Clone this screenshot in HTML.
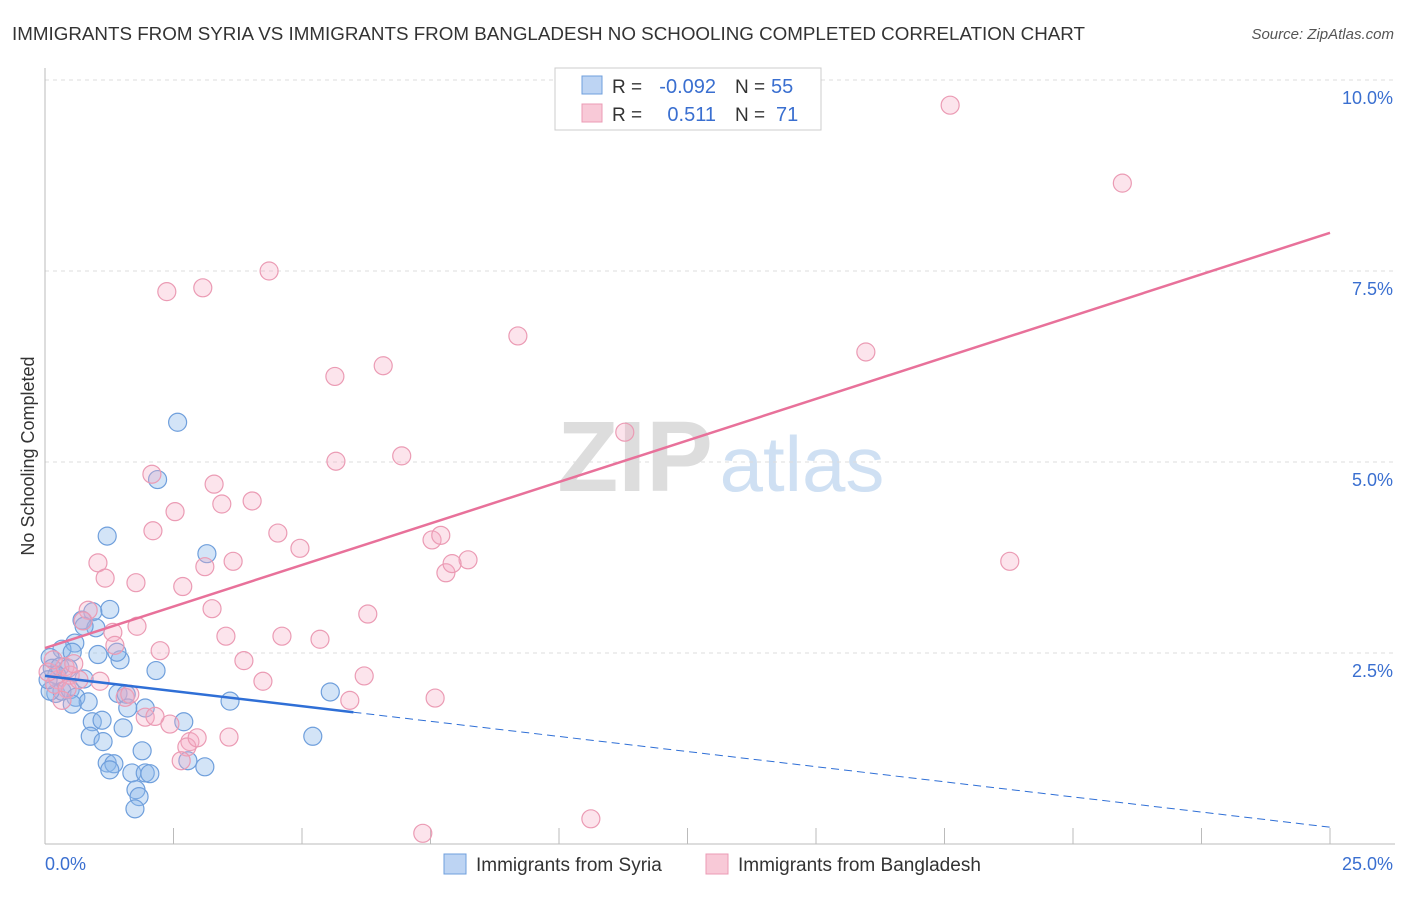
<!DOCTYPE html>
<html><head><meta charset="utf-8"><style>
body{margin:0;background:#fff;font-family:"Liberation Sans",sans-serif;}
svg text{font-family:"Liberation Sans",sans-serif;}
</style></head><body>
<svg id="chart" width="1406" height="892">
<text x="12" y="40" font-size="18" fill="#333" textLength="1073" lengthAdjust="spacingAndGlyphs">IMMIGRANTS FROM SYRIA VS IMMIGRANTS FROM BANGLADESH NO SCHOOLING COMPLETED CORRELATION CHART</text>
<text x="1394" y="39" font-size="15" fill="#555" text-anchor="end" font-style="italic">Source: ZipAtlas.com</text>
<text x="34" y="456" font-size="18" fill="#333" text-anchor="middle" transform="rotate(-90 34 456)">No Schooling Completed</text>
<g>
<text x="635" y="491" font-size="100" fill="#ddd" font-family="Liberation Serif" text-anchor="middle" font-weight="bold">ZIP</text>
<text x="802" y="491" font-size="78" fill="#cfe0f3" text-anchor="middle">atlas</text>
</g>
<g id="grid"></g><g id="axes"></g><g id="pts"></g><g id="lines"></g>
<g>
<rect x="555" y="68" width="266" height="62" fill="#fff" stroke="#ccc"/>
<rect x="582" y="76" width="20" height="18" fill="#bdd4f3" stroke="#6f9fdc"/>
<rect x="582" y="104" width="20" height="18" fill="#f8c9d7" stroke="#eb9bb4"/>
<text x="612" y="93" font-size="19" fill="#333">R =</text>
<text x="716" y="93" font-size="20" fill="#3a6fd0" text-anchor="end">-0.092</text>
<text x="735" y="93" font-size="19" fill="#333">N =</text>
<text x="771" y="93" font-size="20" fill="#3a6fd0">55</text>
<text x="612" y="121" font-size="19" fill="#333">R =</text>
<text x="716" y="121" font-size="20" fill="#3a6fd0" text-anchor="end">0.511</text>
<text x="735" y="121" font-size="19" fill="#333">N =</text>
<text x="776" y="121" font-size="20" fill="#3a6fd0">71</text>
</g>
<g>
<rect x="444" y="854" width="22" height="20" fill="#bdd4f3" stroke="#6f9fdc"/>
<text x="476" y="871" font-size="19" fill="#333">Immigrants from Syria</text>
<rect x="706" y="854" width="22" height="20" fill="#f8c9d7" stroke="#eb9bb4"/>
<text x="738" y="871" font-size="19" fill="#333">Immigrants from Bangladesh</text>
</g>
</svg>
<script>
const xTicks=[0,2.5,5,7.5,10,12.5,15,17.5,20,22.5,25];
const yTicks=[2.5,5,7.5,10];
const yTickLabels=["2.5%","5.0%","7.5%","10.0%"];
const xEndLabels=["0.0%","25.0%"];
const syriaX=[2.58,2.19,1.21,3.15,1.26,0.93,0.72,0.99,0.76,0.58,0.33,0.53,1.03,1.46,1.40,0.10,0.14,0.29,0.45,0.76,0.21,0.33,0.10,0.49,0.60,0.84,1.42,1.58,1.61,1.95,2.16,3.60,2.70,5.55,5.21,0.92,1.11,0.88,1.52,1.13,1.89,1.21,1.34,1.26,1.69,1.95,2.04,3.11,2.78,1.77,1.83,1.75,0.53,0.23,0.06];
const syriaY=[5.52,4.77,4.03,3.80,3.07,3.04,2.93,2.83,2.85,2.63,2.55,2.51,2.48,2.41,2.51,2.44,2.30,2.32,2.30,2.16,1.97,2.00,2.00,2.02,1.92,1.86,1.97,1.96,1.78,1.78,2.27,1.87,1.60,1.99,1.41,1.60,1.62,1.41,1.52,1.34,1.22,1.06,1.05,0.97,0.93,0.93,0.92,1.01,1.09,0.71,0.62,0.46,1.83,2.21,2.15];
const bangX=[17.61,20.96,4.36,2.37,3.07,9.2,15.97,6.58,5.64,11.28,5.66,6.94,2.08,3.29,4.03,3.44,2.53,2.10,4.53,7.53,7.70,4.96,1.03,1.17,1.77,3.66,3.11,2.68,18.77,8.23,7.80,7.92,3.25,6.28,0.84,0.74,1.79,1.32,3.52,4.61,5.35,2.24,3.87,1.36,6.21,4.24,1.07,7.59,5.93,1.56,1.65,1.95,2.43,2.14,2.82,2.76,2.96,2.65,3.58,7.35,10.62,0.25,0.39,0.49,0.19,0.43,0.06,0.33,0.66,0.16,0.56];
const bangY=[9.67,8.65,7.50,7.23,7.28,6.65,6.44,6.26,6.12,5.39,5.01,5.08,4.84,4.71,4.49,4.45,4.35,4.10,4.07,3.98,4.04,3.87,3.68,3.48,3.42,3.70,3.63,3.37,3.70,3.72,3.55,3.67,3.08,3.01,3.06,2.92,2.85,2.77,2.72,2.72,2.68,2.53,2.40,2.60,2.20,2.13,2.13,1.91,1.88,1.92,1.96,1.66,1.57,1.67,1.34,1.27,1.39,1.09,1.40,0.14,0.33,2.15,2.32,2.21,2.09,2.03,2.25,1.88,2.15,2.41,2.36];
const syriaTrend=[2.2,-0.0792];
const bangTrend=[2.565,0.2174];
const NS="http://www.w3.org/2000/svg";
const X=v=>45+v*51.4, Y=v=>844-v*76.4;
function mk(tag,attrs,parent){const e=document.createElementNS(NS,tag);for(const k in attrs)e.setAttribute(k,attrs[k]);document.getElementById(parent).appendChild(e);return e;}
yTicks.forEach((t,i)=>{
 const l=mk('line',{x1:45,x2:1395,y1:Y(t),y2:Y(t),stroke:'#ddd','stroke-dasharray':'4 4'},'grid');
 
 
 const tx=mk('text',{x:1393,y:Y(t)+24,'font-size':18,fill:'#3a6fd0','text-anchor':'end'},'axes');tx.textContent=yTickLabels[i];
 
 
});
let a=mk('line',{x1:45,x2:45,y1:68,y2:844,stroke:'#bbb'},'axes');


a=mk('line',{x1:45,x2:1395,y1:844,y2:844,stroke:'#bbb'},'axes');


xTicks.forEach(t=>{const l=mk('line',{x1:X(t),x2:X(t),y1:828,y2:844,stroke:'#bbb'},'axes');
 
 });
let t0=mk('text',{x:45,y:870,'font-size':18,fill:'#3a6fd0'},'axes');t0.textContent=xEndLabels[0];


t0=mk('text',{x:1393,y:870,'font-size':18,fill:'#3a6fd0','text-anchor':'end'},'axes');t0.textContent=xEndLabels[1];


syriaX.forEach((x,i)=>{const c=mk('circle',{cx:X(x),cy:Y(syriaY[i]),r:9,fill:'rgba(140,185,235,0.38)',stroke:'#6f9fdc','stroke-width':1.2},'pts');
 
 });
bangX.forEach((x,i)=>{const c=mk('circle',{cx:X(x),cy:Y(bangY[i]),r:9,fill:'rgba(245,170,195,0.32)',stroke:'#eb9bb4','stroke-width':1.2},'pts');
 
 });
const sy=v=>syriaTrend[0]+syriaTrend[1]*v, by=v=>bangTrend[0]+bangTrend[1]*v;
let l=mk('line',{x1:X(0),y1:Y(sy(0)),x2:X(6),y2:Y(sy(6)),stroke:'#2f6fd6','stroke-width':2.5},'lines');


l=mk('line',{x1:X(6),y1:Y(sy(6)),x2:X(25),y2:Y(sy(25)),stroke:'#2f6fd6','stroke-width':1,'stroke-dasharray':'8 5'},'lines');


l=mk('line',{x1:X(0),y1:Y(by(0)),x2:X(25),y2:Y(by(25)),stroke:'#e8719a','stroke-width':2.5},'lines');


</script>
</body></html>
